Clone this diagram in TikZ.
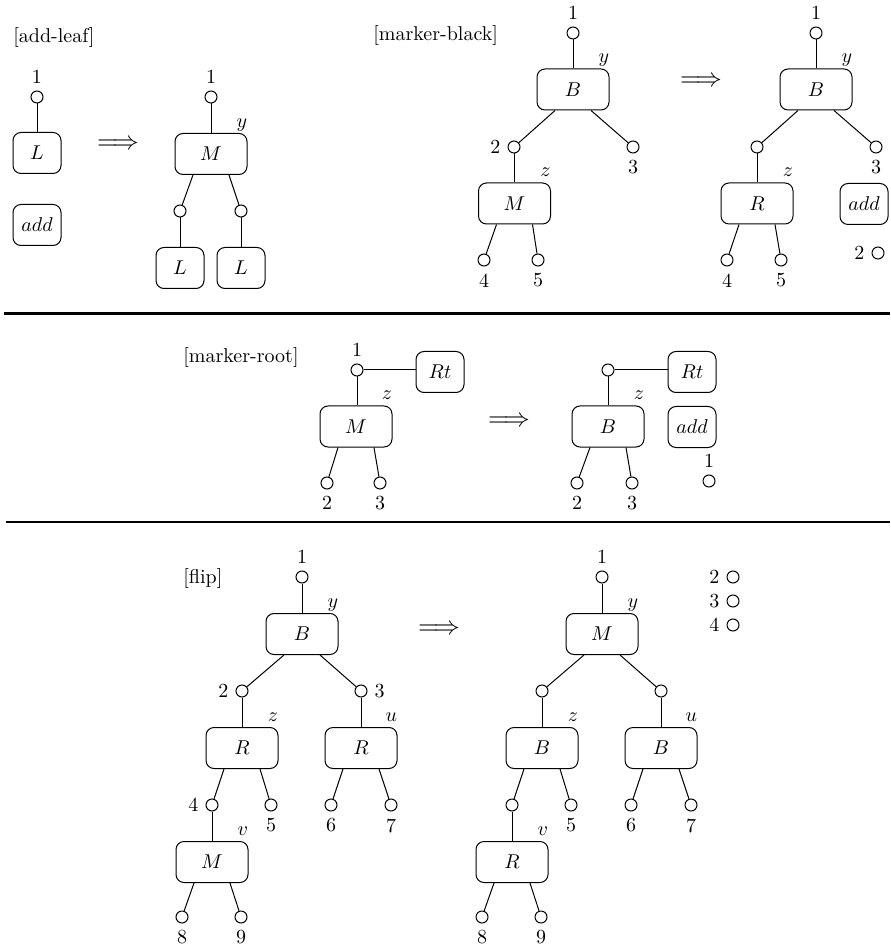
\documentclass[tikz,border=0pt]{standalone}
\begin{document}
\begin{tikzpicture}[x=0.5pt,y=-0.5pt,
  box/.style={draw,rounded corners=4pt,minimum width=24pt,minimum height=20.5pt,inner sep=0pt,line width=0.5pt},
  wbox/.style={box,minimum width=36pt},
  port/.style={draw,circle,minimum size=6pt,inner sep=0pt,line width=0.5pt,
    every label/.style={inner sep=1pt},label distance=2.2pt},
  lowport/.style={port,label distance=1pt},
  tag/.style={label={[anchor=base east,inner sep=0pt,yshift=2.8pt]north east:{$#1$}}},
  conn/.style={line width=0.5pt},
  sepline/.style={line width=1.2pt},
  title/.style={anchor=base west,inner sep=0pt},
  impl/.style={scale=1.3,inner sep=0pt}
]
\useasboundingbox (0,0) rectangle (890,945);

% ---------- add-leaf ----------
\node[title] (t1) at (13,43) {[add-leaf]};
\node[port,label=above:1] (a1) at (37,97) {};
\node[box] (aL) at (37,153) {$L$};
\node[box] (aadd) at (37,225) {$add$};
\draw[conn] (a1) -- (aL);
\node[impl] (aimp) at (118,145) {$\Longrightarrow$};
\node[port,label=above:1] (b1) at (211,97) {};
\node[wbox,tag=y] (bM) at (211,154) {$M$};
\node[port] (b2) at (180,211) {};
\node[port] (b3) at (241,211) {};
\node[box] (bL1) at (180,268) {$L$};
\node[box] (bL2) at (241,268) {$L$};
\draw[conn] (b1) -- (bM);
\draw[conn] ([xshift=-9pt]bM.south) -- (b2);
\draw[conn] ([xshift=9pt]bM.south) -- (b3);
\draw[conn] (b2) -- (bL1);
\draw[conn] (b3) -- (bL2);

% ---------- marker-black ----------
\node[title] (t2) at (373,41) {[marker-black]};
\node[port,label=above:1] (c1) at (573,33) {};
\node[wbox,tag=y] (cB) at (573,89.5) {$B$};
\node[port,label=left:2] (c2) at (514,147) {};
\node[port,label=below:3] (c3) at (633,147) {};
\node[wbox,tag=z] (cM) at (514.5,203.5) {$M$};
\node[port,label=below:4] (c4) at (484,260) {};
\node[port,label=below:5] (c5) at (538,260) {};
\draw[conn] (c1) -- (cB);
\draw[conn] ([xshift=-9pt]cB.south) -- (c2);
\draw[conn] ([xshift=9pt]cB.south) -- (c3);
\draw[conn] (c2) -- (c2 |- cM.north);
\draw[conn] ([xshift=-9pt]cM.south) -- (c4);
\draw[conn] ([xshift=9pt]cM.south) -- (c5);
\node[impl] (cimp) at (701,82) {$\Longrightarrow$};
\node[port,label=above:1] (d1) at (816,33) {};
\node[wbox,tag=y] (dB) at (816,89.5) {$B$};
\node[port] (d2) at (757,147) {};
\node[port,label=below:3] (d3) at (876,147) {};
\node[wbox,tag=z] (dR) at (757,203.5) {$R$};
\node[port,label=below:4] (d4) at (727,260) {};
\node[port,label=below:5] (d5) at (781,260) {};
\node[box] (dadd) at (864,204) {$add$};
\node[port,label=left:2] (dx) at (878,253) {};
\draw[conn] (d1) -- (dB);
\draw[conn] ([xshift=-9pt]dB.south) -- (d2);
\draw[conn] ([xshift=9pt]dB.south) -- (d3);
\draw[conn] (d2) -- (dR);
\draw[conn] ([xshift=-9pt]dR.south) -- (d4);
\draw[conn] ([xshift=9pt]dR.south) -- (d5);

\draw[sepline] (4,313.5) -- (890,313.5);

% ---------- marker-root ----------
\node[title] (t3) at (183,363) {[marker-root]};
\node[port,label=above:1] (e1) at (357,370) {};
\node[box] (eRt) at (440,372) {$Rt$};
\node[wbox,tag=z] (eM) at (356,426.5) {$M$};
\node[port,label=below:2] (e2) at (327,483) {};
\node[port,label=below:3] (e3) at (380,483) {};
\draw[conn] (e1) -- (e1 -| eRt.west);
\draw[conn] (e1) -- (e1 |- eM.north);
\draw[conn] ([xshift=-9pt]eM.south) -- (e2);
\draw[conn] ([xshift=9pt]eM.south) -- (e3);
\node[impl] (eimp) at (509,422) {$\Longrightarrow$};
\node[port] (f1) at (608,370) {};
\node[box] (fRt) at (692,372) {$Rt$};
\node[wbox,tag=z] (fB) at (608,426.5) {$B$};
\node[port,label=below:2] (f2) at (577,483) {};
\node[port,label=below:3] (f3) at (632,483) {};
\node[box] (fadd) at (692,427) {$add$};
\node[port,label=above:1] (fx) at (709,481) {};
\draw[conn] (f1) -- (f1 -| fRt.west);
\draw[conn] (f1) -- (fB);
\draw[conn] ([xshift=-9pt]fB.south) -- (f2);
\draw[conn] ([xshift=9pt]fB.south) -- (f3);

\draw[sepline] (6,521.8) -- (890,521.8);

% ---------- flip ----------
\node[title] (t4) at (183,583) {[flip]};
\node[port,label=above:1] (g1) at (302,577) {};
\node[wbox,tag=y] (gB) at (302,634) {$B$};
\node[port,label=left:2] (g2) at (242,691) {};
\node[port,label=right:3] (g3) at (361,691) {};
\node[wbox,tag=z] (gRz) at (242,748) {$R$};
\node[wbox,tag=u] (gRu) at (361,748) {$R$};
\node[port,label=left:4] (g4) at (212,805) {};
\node[port,label=below:5] (g5) at (271,805) {};
\node[port,label=below:6] (g6) at (331,805) {};
\node[port,label=below:7] (g7) at (391,805) {};
\node[wbox,tag=v] (gM) at (212,862) {$M$};
\node[lowport,label=below:8] (g8) at (182,917) {};
\node[lowport,label=below:9] (g9) at (241,917) {};
\draw[conn] (g1) -- (gB);
\draw[conn] ([xshift=-9pt]gB.south) -- (g2);
\draw[conn] ([xshift=9pt]gB.south) -- (g3);
\draw[conn] (g2) -- (gRz);
\draw[conn] (g3) -- (gRu);
\draw[conn] ([xshift=-9pt]gRz.south) -- (g4);
\draw[conn] ([xshift=9pt]gRz.south) -- (g5);
\draw[conn] ([xshift=-9pt]gRu.south) -- (g6);
\draw[conn] ([xshift=9pt]gRu.south) -- (g7);
\draw[conn] (g4) -- (gM);
\draw[conn] ([xshift=-9pt]gM.south) -- (g8);
\draw[conn] ([xshift=9pt]gM.south) -- (g9);
\node[impl] (gimp) at (439,630) {$\Longrightarrow$};
\node[port,label=above:1] (h1) at (602,577) {};
\node[wbox,tag=y] (hM) at (602,634) {$M$};
\node[port] (h2) at (542,691) {};
\node[port] (h3) at (661,691) {};
\node[wbox,tag=z] (hBz) at (542,748) {$B$};
\node[wbox,tag=u] (hBu) at (661,748) {$B$};
\node[port] (h4) at (512,805) {};
\node[port,label=below:5] (h5) at (571,805) {};
\node[port,label=below:6] (h6) at (631,805) {};
\node[port,label=below:7] (h7) at (691,805) {};
\node[wbox,tag=v] (hR) at (512,862) {$R$};
\node[lowport,label=below:8] (h8) at (482,917) {};
\node[lowport,label=below:9] (h9) at (541,917) {};
\node[port,label=left:2] (hx2) at (733,577) {};
\node[port,label=left:3] (hx3) at (733,601) {};
\node[port,label=left:4] (hx4) at (733,625) {};
\draw[conn] (h1) -- (hM);
\draw[conn] ([xshift=-9pt]hM.south) -- (h2);
\draw[conn] ([xshift=9pt]hM.south) -- (h3);
\draw[conn] (h2) -- (hBz);
\draw[conn] (h3) -- (hBu);
\draw[conn] ([xshift=-9pt]hBz.south) -- (h4);
\draw[conn] ([xshift=9pt]hBz.south) -- (h5);
\draw[conn] ([xshift=-9pt]hBu.south) -- (h6);
\draw[conn] ([xshift=9pt]hBu.south) -- (h7);
\draw[conn] (h4) -- (hR);
\draw[conn] ([xshift=-9pt]hR.south) -- (h8);
\draw[conn] ([xshift=9pt]hR.south) -- (h9);
\end{tikzpicture}
\end{document}
